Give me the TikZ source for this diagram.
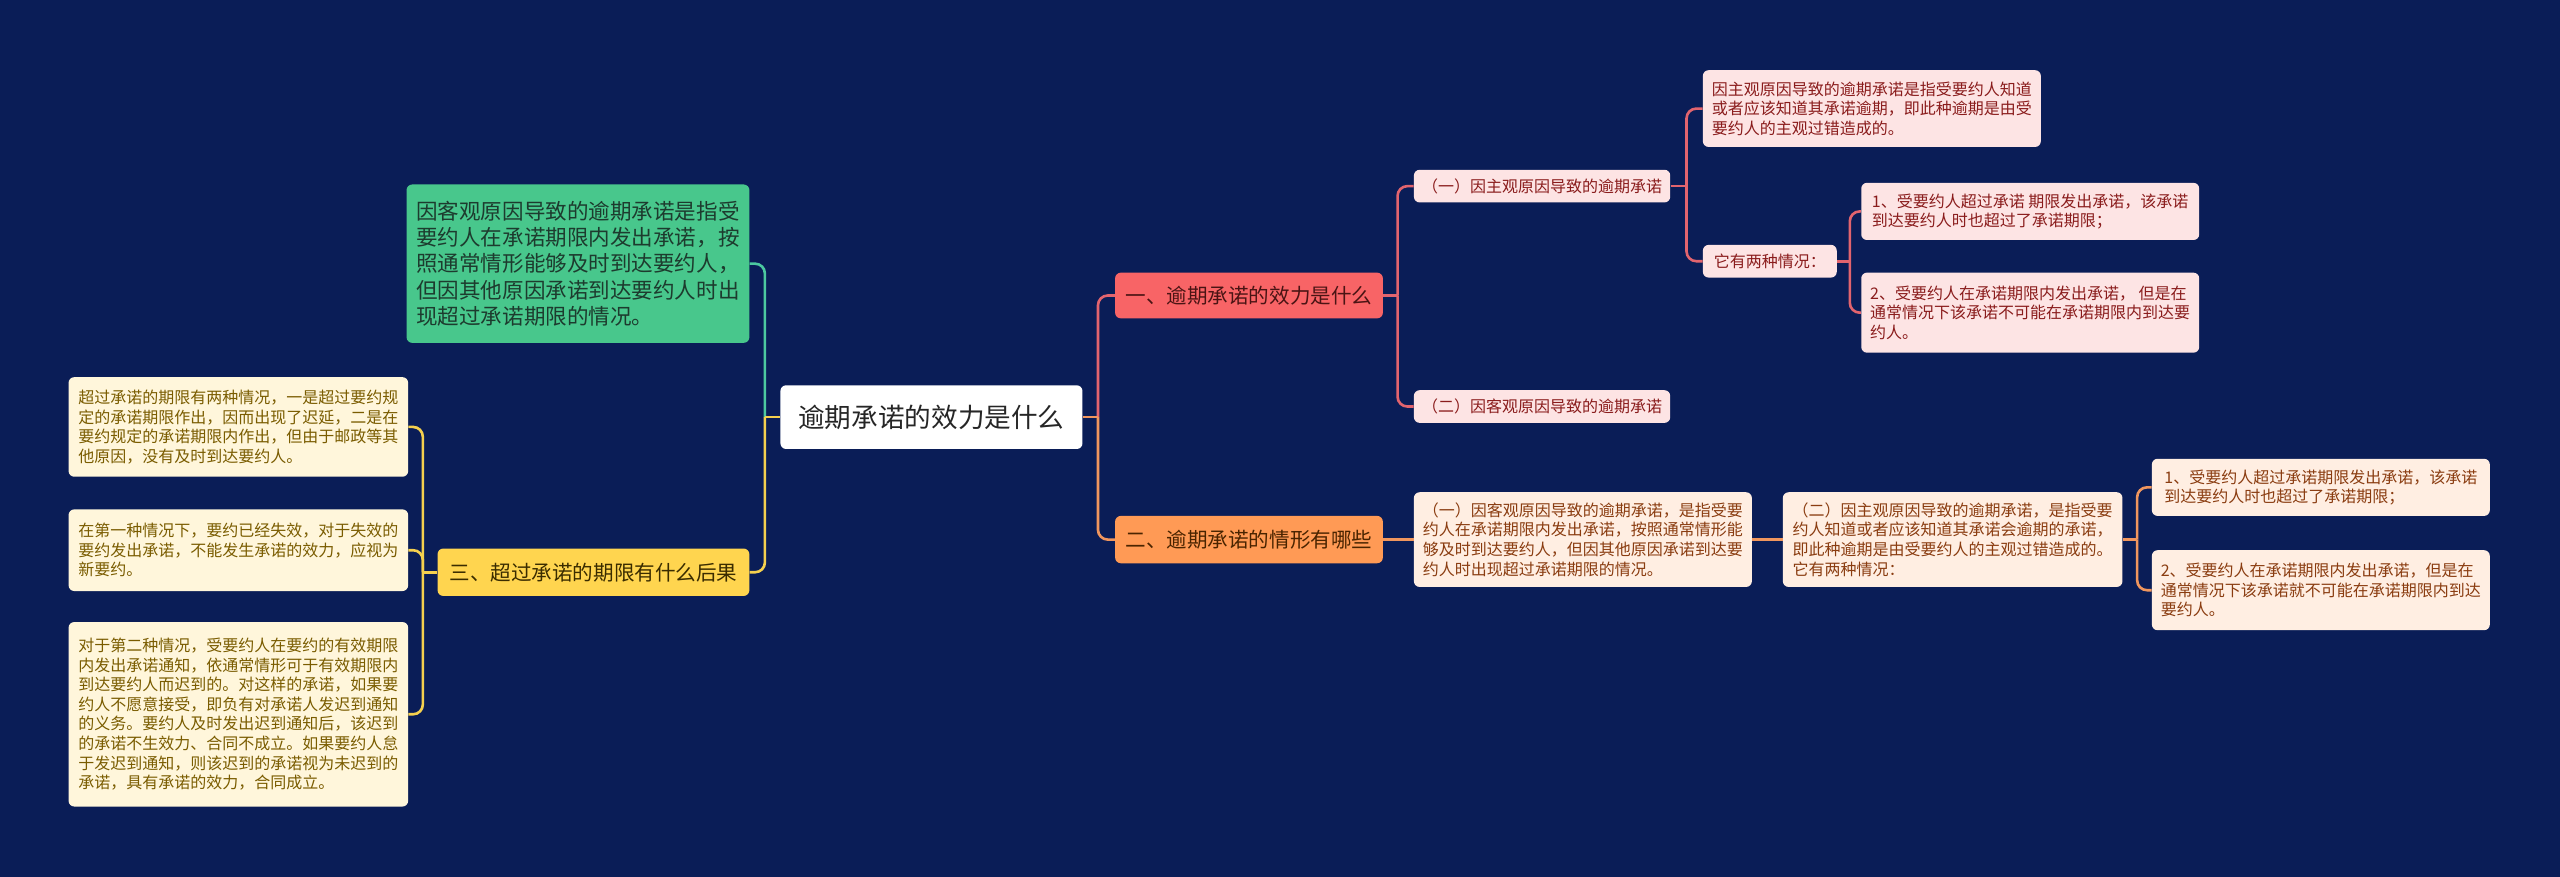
\documentclass[tikz,border=0pt]{standalone}
\usepackage{fontspec}
\newfontfamily\cjk{Noto Sans CJK SC}
\definecolor{bg}{HTML}{0A1D57}
\definecolor{gfill}{HTML}{48C78C}
\definecolor{gtext}{HTML}{1D3B2E}
\definecolor{gline}{HTML}{4CC9A0}
\definecolor{yfill}{HTML}{FFD54F}
\definecolor{ytext}{HTML}{3A2C00}
\definecolor{yline}{HTML}{F5D04E}
\definecolor{lyfill}{HTML}{FFF6DB}
\definecolor{lytext}{HTML}{7A5C00}
\definecolor{rfill}{HTML}{F86466}
\definecolor{rtext}{HTML}{4A1414}
\definecolor{rline}{HTML}{E2646E}
\definecolor{lrfill}{HTML}{FDE4E4}
\definecolor{lrtext}{HTML}{8A1C1C}
\definecolor{ofill}{HTML}{FF9A55}
\definecolor{otext}{HTML}{4A2400}
\definecolor{oline}{HTML}{F0965E}
\definecolor{lofill}{HTML}{FFEEE2}
\definecolor{lotext}{HTML}{8A3C10}
\begin{document}
\begin{tikzpicture}[x=1pt,y=-1pt,
  box/.style={rounded corners=3.5pt, inner sep=0pt, align=left, anchor=center},
  small/.style={font=\cjk\fontsize{9.8pt}{12pt}\selectfont},
  mid/.style={font=\cjk\fontsize{12.6pt}{15pt}\selectfont},
  rootbox/.style={box, fill=white, text=black!85, font=\cjk\fontsize{16.3pt}{19pt}\selectfont, minimum width=185pt, minimum height=39pt},
  greenbox/.style={box, fill=gfill, text=gtext, font=\cjk\fontsize{13.2pt}{16.1pt}\selectfont, minimum width=210pt, minimum height=97pt},
  ybox/.style={box, mid, fill=yfill, text=ytext, minimum width=191pt, minimum height=29pt},
  rbox/.style={box, mid, fill=rfill, text=rtext, minimum width=164pt, minimum height=28pt},
  obox/.style={box, mid, fill=ofill, text=otext, minimum width=164pt, minimum height=29pt},
  lybox/.style={box, small, fill=lyfill, text=lytext, minimum width=208pt},
  lrbox/.style={box, small, fill=lrfill, text=lrtext, minimum width=207pt},
  lobox/.style={box, small, fill=lofill, text=lotext, minimum width=207pt},
  cg/.style={draw=gline, line width=1.6pt},
  cy/.style={draw=yline, line width=1.6pt},
  cr/.style={draw=rline, line width=1.6pt},
  co/.style={draw=oline, line width=1.6pt},
  rc/.style={rounded corners=6pt}
]
\fill[bg] (0,0) rectangle (1568,537);
\useasboundingbox (0,0) rectangle (1568,537);

% nodes
\node[rootbox] (root) at (570.5,255.5) {逾期承诺的效力是什么};
\node[greenbox] (G) at (354,161.5) {因客观原因导致的逾期承诺是指受\\要约人在承诺期限内发出承诺，按\\照通常情形能够及时到达要约人，\\但因其他原因承诺到达要约人时出\\现超过承诺期限的情况。};
\node[ybox] (Y3) at (363.5,350.5) {三、超过承诺的期限有什么后果};
\node[lybox, minimum height=61pt] (L1) at (146,261.5) {超过承诺的期限有两种情况，一是超过要约规\\定的承诺期限作出，因而出现了迟延，二是在\\要约规定的承诺期限内作出，但由于邮政等其\\他原因，没有及时到达要约人。};
\node[lybox, minimum height=50pt] (L2) at (146,337) {在第一种情况下，要约已经失效，对于失效的\\要约发出承诺，不能发生承诺的效力，应视为\\新要约。};
\node[lybox, minimum height=113pt] (L3) at (146,437.5) {对于第二种情况，受要约人在要约的有效期限\\内发出承诺通知，依通常情形可于有效期限内\\到达要约人而迟到的。对这样的承诺，如果要\\约人不愿意接受，即负有对承诺人发迟到通知\\的义务。要约人及时发出迟到通知后，该迟到\\的承诺不生效力、合同不成立。如果要约人怠\\于发迟到通知，则该迟到的承诺视为未迟到的\\承诺，具有承诺的效力，合同成立。};

\node[rbox] (R1) at (765,181) {一、逾期承诺的效力是什么};
\node[obox] (R2) at (765,330.5) {二、逾期承诺的情形有哪些};

\node[lrbox, minimum width=157pt, minimum height=20pt] (A) at (944.5,114) {（一）因主观原因导致的逾期承诺};
\node[lrbox, minimum width=157pt, minimum height=20pt] (B) at (944.5,249) {（二）因客观原因导致的逾期承诺};
\node[lrbox, minimum height=47pt] (A1) at (1146.5,66.5) {因主观原因导致的逾期承诺是指受要约人知道\\或者应该知道其承诺逾期，即此种逾期是由受\\要约人的主观过错造成的。};
\node[lrbox, minimum width=82pt, minimum height=20pt] (A2) at (1084,160) {它有两种情况：};
\node[lrbox, minimum height=35pt] (A2a) at (1243.5,129.5) {1、受要约人超过承诺 期限发出承诺，该承诺\\到达要约人时也超过了承诺期限；};
\node[lrbox, minimum height=49pt] (A2b) at (1243.5,191.5) {2、受要约人在承诺期限内发出承诺， 但是在\\通常情况下该承诺不可能在承诺期限内到达要\\约人。};

\node[lobox, minimum height=58pt] (B1) at (969.5,330.5) {（一）因客观原因导致的逾期承诺，是指受要\\约人在承诺期限内发出承诺，按照通常情形能\\够及时到达要约人，但因其他原因承诺到达要\\约人时出现超过承诺期限的情况。};
\node[lobox, minimum width=208pt, minimum height=58pt] (B2) at (1196,330.5) {（二）因主观原因导致的逾期承诺，是指受要\\约人知道或者应该知道其承诺会逾期的承诺，\\即此种逾期是由受要约人的主观过错造成的。\\它有两种情况：};
\node[lobox, minimum height=35pt] (B2a) at (1421.5,298.5) {1、受要约人超过承诺期限发出承诺，该承诺\\到达要约人时也超过了承诺期限；};
\node[lobox, minimum height=49pt] (B2b) at (1421.5,361.5) {2、受要约人在承诺期限内发出承诺，但是在\\通常情况下该承诺就不可能在承诺期限内到达\\要约人。};

% junctions
\coordinate (jL) at (468.5,255.5);
\coordinate (jY) at (259,350.5);
\coordinate (jR) at (672.5,255.5);
\coordinate (jR1) at (856,181);
\coordinate (jA) at (1033,114);
\coordinate (jA2) at (1133,160);
\coordinate (jB2) at (1309,330.5);

% root left
\draw[cg] (root.west) -- (jL);
\draw[cg,rc] (jL) -- (jL |- G.east) -- (G.east);
\draw[cy,rc] (jL) -- (jL |- Y3.east) -- (Y3.east);
\draw[cy] (root.west) -- (jL);
% yellow children
\draw[cy] (Y3.west) -- (jY);
\draw[cy,rc] (jY) -- (jY |- L1.east) -- (L1.east);
\draw[cy,rc] (jY) -- (jY |- L2.east) -- (L2.east);
\draw[cy,rc] (jY) -- (jY |- L3.east) -- (L3.east);
% root right
\draw[cr,rc] (jR) -- (jR |- R1.west) -- (R1.west);
\draw[co,rc] (jR) -- (jR |- R2.west) -- (R2.west);
\draw[co] (root.east) -- (jR);
% red branch
\draw[cr] (R1.east) -- (jR1);
\draw[cr,rc] (jR1) -- (jR1 |- A.west) -- (A.west);
\draw[cr,rc] (jR1) -- (jR1 |- B.west) -- (B.west);
\draw[cr] (A.east) -- (jA);
\draw[cr,rc] (jA) -- (jA |- A1.west) -- (A1.west);
\draw[cr,rc] (jA) -- (jA |- A2.west) -- (A2.west);
\draw[cr] (A2.east) -- (jA2);
\draw[cr,rc] (jA2) -- (jA2 |- A2a.west) -- (A2a.west);
\draw[cr,rc] (jA2) -- (jA2 |- A2b.west) -- (A2b.west);
% orange branch
\draw[co] (R2.east) -- (B1.west);
\draw[co] (B1.east) -- (B2.west);
\draw[co] (B2.east) -- (jB2);
\draw[co,rc] (jB2) -- (jB2 |- B2a.west) -- (B2a.west);
\draw[co,rc] (jB2) -- (jB2 |- B2b.west) -- (B2b.west);
\end{tikzpicture}
\end{document}
